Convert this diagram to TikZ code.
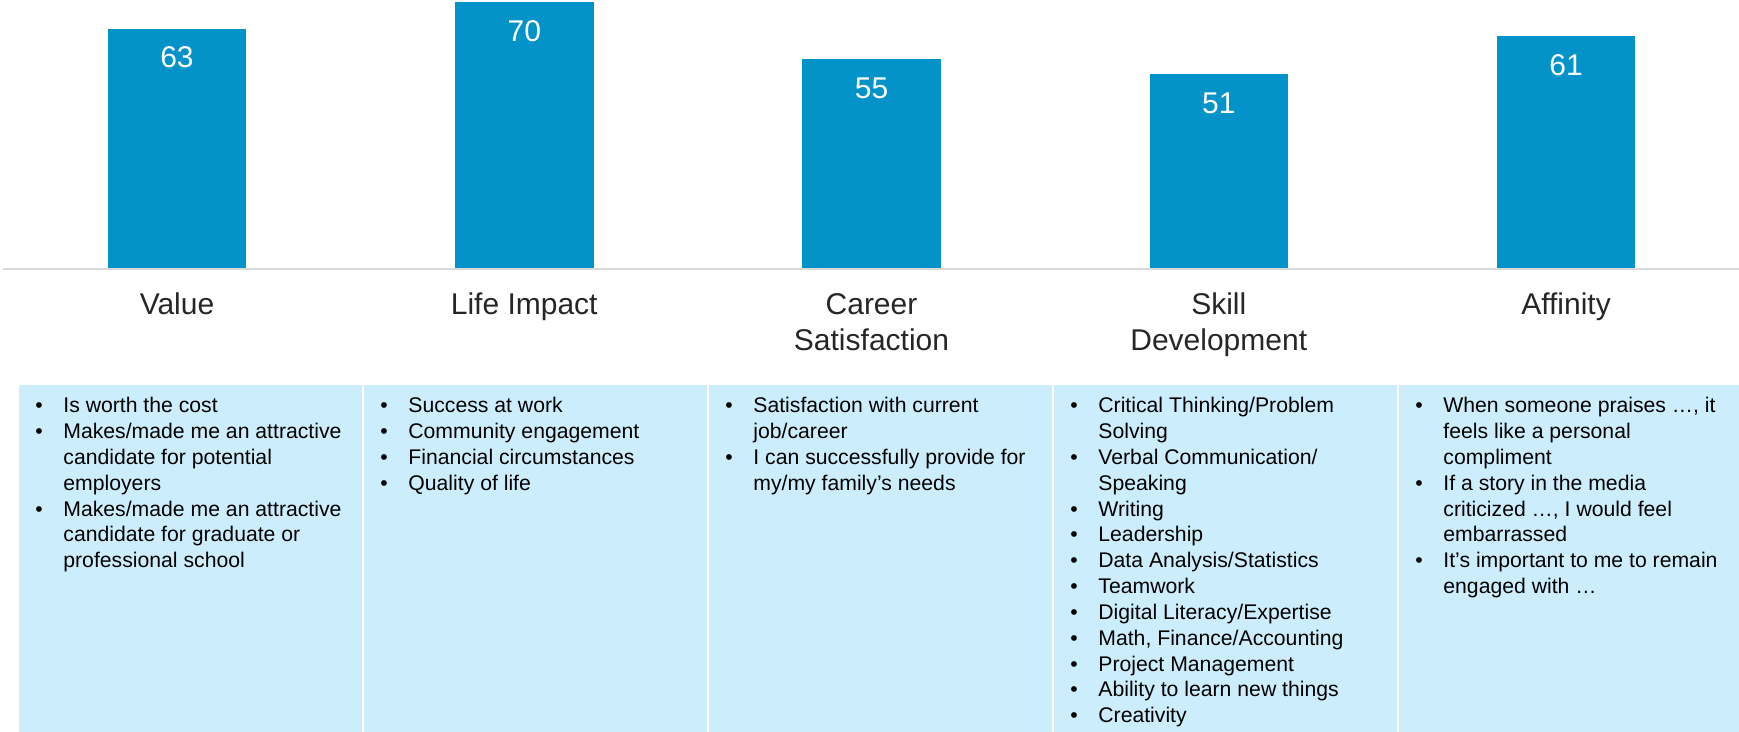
\documentclass[tikz,border=0pt]{standalone}
\usepackage{fontspec}
\setmainfont{Liberation Sans}
\usepackage[HTML]{xcolor}
\usetikzlibrary{positioning}

\definecolor{barblue}{HTML}{0393C8}
\definecolor{boxblue}{HTML}{CCEEFC}
\definecolor{labelgray}{HTML}{262626}
\definecolor{axisgray}{HTML}{D9D9D9}

\newcommand{\itemlist}[1]{\fontsize{10.6}{12.9}\selectfont\begin{tabular}[t]{@{}p{14pt}@{}l@{}}#1\end{tabular}}
\newcommand{\twolines}[2]{\begin{tabular}[t]{@{}c@{}}#1\\#2\end{tabular}}

\begin{document}
\begin{tikzpicture}[x=0.5pt, y=-0.5pt,
  bar/.style={fill=barblue},
  val/.style={text=white, font=\fontsize{15}{18}\selectfont},
  cat/.style={text=labelgray, anchor=base, font=\fontsize{15}{17.8}\selectfont},
  panel/.style={fill=boxblue},
  items/.style={anchor=base west, inner sep=0pt, text=black}]

\useasboundingbox (0,0) rectangle (1739,732);

\draw[axisgray, line width=1pt] (3,269) -- (1739,269);

% bars, 3.8 px per point
\fill[bar] (107.75,268) rectangle (246.25,28.6);
\node[val] (vValue) at (177,57.6) {63};

\fill[bar] (455,268) rectangle (593.5,2);
\node[val] (vLife) at (524.25,31) {70};

\fill[bar] (802.25,268) rectangle (940.75,59);
\node[val] (vCareer) at (871.5,88) {55};

\fill[bar] (1149.5,268) rectangle (1288,74.2);
\node[val] (vSkill) at (1218.75,103.2) {51};

\fill[bar] (1496.75,268) rectangle (1635.25,36.2);
\node[val] (vAffinity) at (1566,65.2) {61};

\node[cat] (cValue) at (177,315) {Value};
\node[cat] (cLife) at (524.25,315) {Life Impact};
\node[cat] (cCareer) at (871.5,315) {\twolines{Career}{Satisfaction}};
\node[cat] (cSkill) at (1218.75,315) {\twolines{Skill}{Development}};
\node[cat] (cAffinity) at (1566,315) {Affinity};

\fill[panel] (19,385) rectangle (362,732);
\fill[panel] (364,385) rectangle (707,732);
\fill[panel] (709,385) rectangle (1052,732);
\fill[panel] (1054,385) rectangle (1397,732);
\fill[panel] (1399,385) rectangle (1739,732);

\node[items] (iValue) at (35,413) {\itemlist{
  \textbullet & Is worth the cost\\
  \textbullet & Makes/made me an attractive\\
              & candidate for potential\\
              & employers\\
  \textbullet & Makes/made me an attractive\\
              & candidate for graduate or\\
              & professional school}};

\node[items] (iLife) at (380,413) {\itemlist{
  \textbullet & Success at work\\
  \textbullet & Community engagement\\
  \textbullet & Financial circumstances\\
  \textbullet & Quality of life}};

\node[items] (iCareer) at (725,413) {\itemlist{
  \textbullet & Satisfaction with current\\
              & job/career\\
  \textbullet & I can successfully provide for\\
              & my/my family’s needs}};

\node[items] (iSkill) at (1070,413) {\itemlist{
  \textbullet & Critical Thinking/Problem\\
              & Solving\\
  \textbullet & Verbal Communication/\\
              & Speaking\\
  \textbullet & Writing\\
  \textbullet & Leadership\\
  \textbullet & Data Analysis/Statistics\\
  \textbullet & Teamwork\\
  \textbullet & Digital Literacy/Expertise\\
  \textbullet & Math, Finance/Accounting\\
  \textbullet & Project Management\\
  \textbullet & Ability to learn new things\\
  \textbullet & Creativity}};

\node[items] (iAffinity) at (1415,413) {\itemlist{
  \textbullet & When someone praises …, it\\
              & feels like a personal\\
              & compliment\\
  \textbullet & If a story in the media\\
              & criticized …, I would feel\\
              & embarrassed\\
  \textbullet & It’s important to me to remain\\
              & engaged with …}};
\end{tikzpicture}
\end{document}
